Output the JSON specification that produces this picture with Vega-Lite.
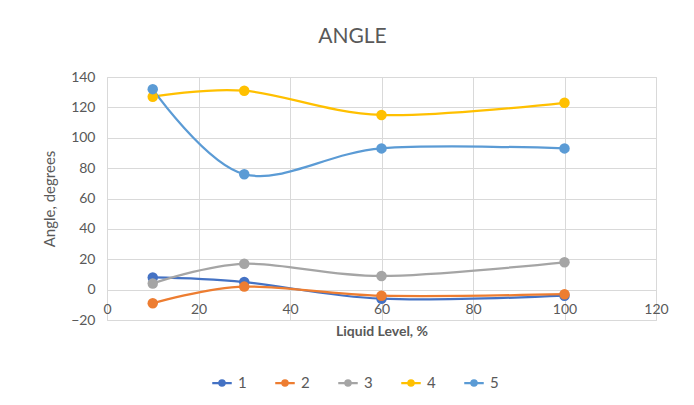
{
  "$schema": "https://vega.github.io/schema/vega-lite/v6.json",
  "autosize": {"type": "none"},
  "padding": {"left": 107, "top": 77, "right": 38, "bottom": 85},
  "width": 549,
  "height": 243,
  "background": "white",
  "title": {"text": "ANGLE", "fontSize": 21, "font": "Lato", "fontWeight": "normal", "color": "#595959", "anchor": "middle", "offset": 23, "dx": -29},
  "data": {"values": [
    {"level": 10, "angle": 8, "series": "1"},
    {"level": 30, "angle": 5, "series": "1"},
    {"level": 60, "angle": -6, "series": "1"},
    {"level": 100, "angle": -4, "series": "1"},
    {"level": 10, "angle": -9, "series": "2"},
    {"level": 30, "angle": 2, "series": "2"},
    {"level": 60, "angle": -4, "series": "2"},
    {"level": 100, "angle": -3, "series": "2"},
    {"level": 10, "angle": 4, "series": "3"},
    {"level": 30, "angle": 17, "series": "3"},
    {"level": 60, "angle": 9, "series": "3"},
    {"level": 100, "angle": 18, "series": "3"},
    {"level": 10, "angle": 127, "series": "4"},
    {"level": 30, "angle": 131, "series": "4"},
    {"level": 60, "angle": 115, "series": "4"},
    {"level": 100, "angle": 123, "series": "4"},
    {"level": 10, "angle": 132, "series": "5"},
    {"level": 30, "angle": 76, "series": "5"},
    {"level": 60, "angle": 93, "series": "5"},
    {"level": 100, "angle": 93, "series": "5"}
  ]},
  "mark": {"type": "line", "interpolate": "cardinal", "strokeWidth": 2.25, "point": {"filled": true, "size": 110, "opacity": 1}},
  "encoding": {
    "x": {"field": "level", "type": "quantitative",
      "scale": {"domain": [0, 120], "nice": false},
      "axis": {"values": [0, 20, 40, 60, 80, 100, 120], "title": "Liquid Level, %", "offset": -30.4, "domain": false, "ticks": false, "labelPadding": 13, "titlePadding": 8, "titleFontWeight": "bold", "titleFontSize": 14, "titleColor": "#595959", "labelFontSize": 14, "labelColor": "#595959", "labelFont": "Lato", "titleFont": "Lato", "gridColor": "#D9D9D9", "labelFlush": false}},
    "y": {"field": "angle", "type": "quantitative",
      "scale": {"domain": [-20, 140], "nice": false, "zero": false},
      "axis": {"values": [-20, 0, 20, 40, 60, 80, 100, 120, 140], "title": "Angle, degrees", "domain": false, "ticks": false, "labelPadding": 12, "titlePadding": 13, "titleFontWeight": "normal", "titleFontSize": 15, "titleColor": "#595959", "labelFontSize": 14, "labelColor": "#595959", "labelFont": "Lato", "titleFont": "Lato", "gridColor": "#D9D9D9"}},
    "color": {"field": "series", "type": "nominal",
      "scale": {"domain": ["1", "2", "3", "4", "5"], "range": ["#4472C4", "#ED7D31", "#A5A5A5", "#FFC000", "#5B9BD5"]},
      "legend": {"title": null, "orient": "none", "direction": "horizontal", "legendX": 104, "legendY": 295,
        "symbolType": "M-1,0L1,0M-0.27,0A0.27,0.27 0 1,0 0.27,0A0.27,0.27 0 1,0 -0.27,0",
        "symbolSize": 380, "symbolStrokeWidth": 2.25, "labelFontSize": 15, "labelColor": "#595959", "labelFont": "Lato", "columnPadding": 23, "labelOffset": 5,
        "encode": {"symbols": {"update": {"fill": {"scale": "color", "field": "value"}}}}}}
  },
  "config": {"view": {"stroke": "#D9D9D9"}}
}
